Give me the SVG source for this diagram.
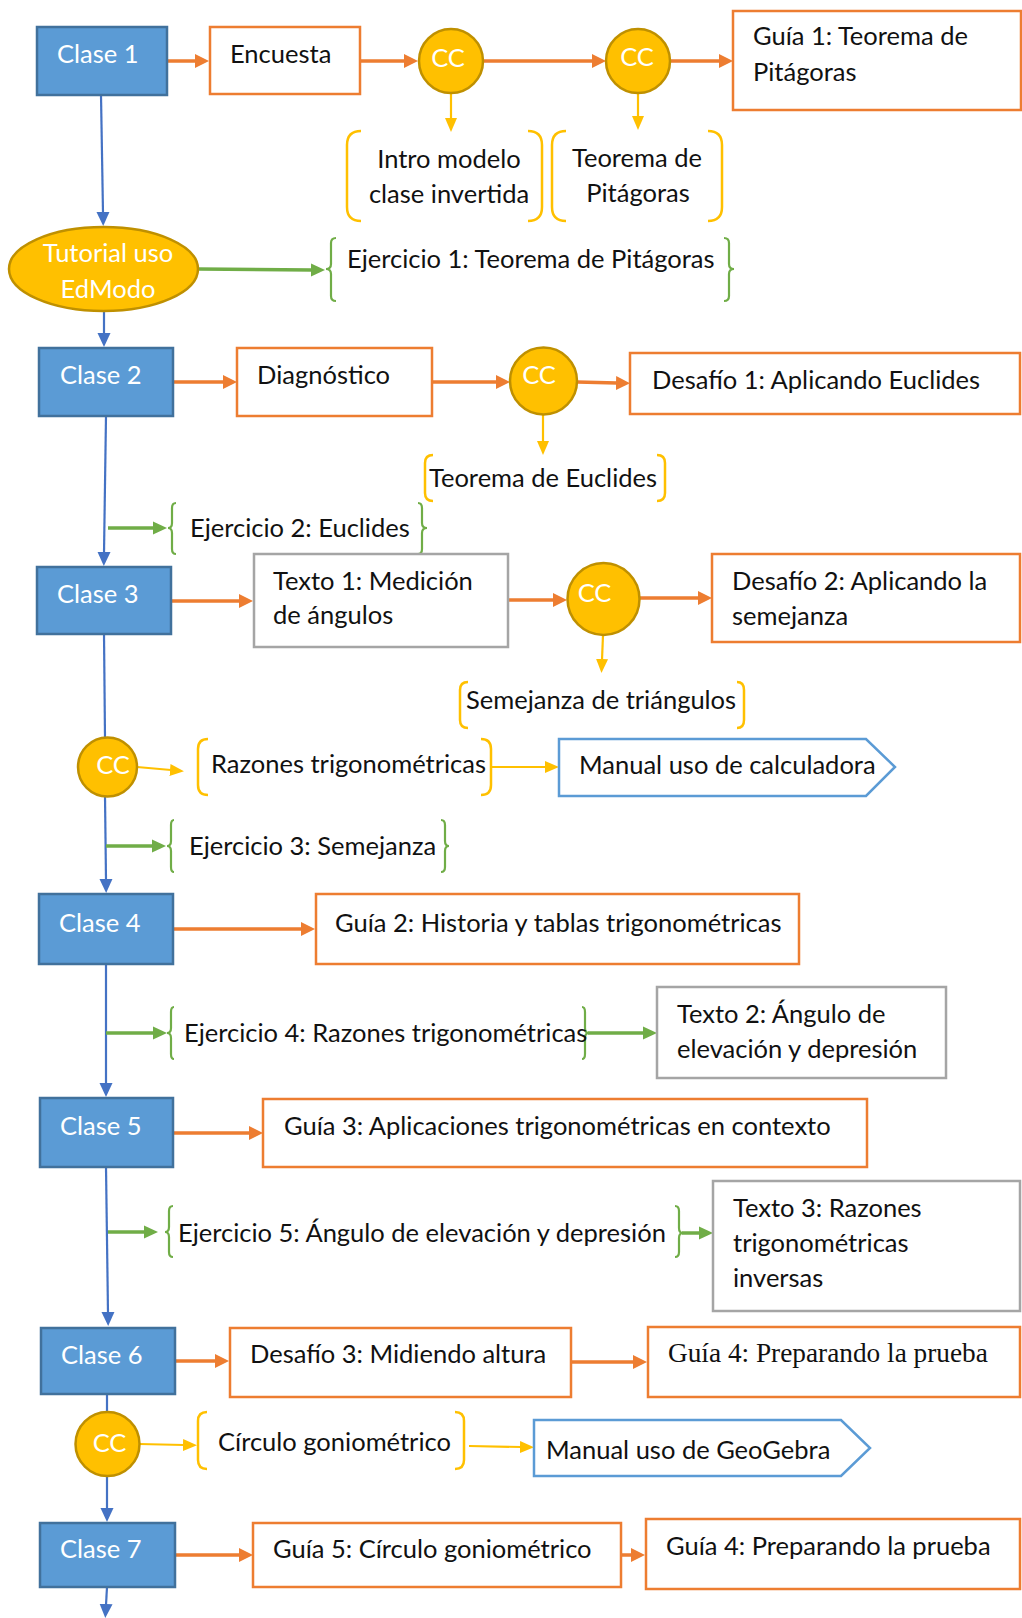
<svg xmlns="http://www.w3.org/2000/svg" width="1022" height="1618" viewBox="0 0 1022 1618">
<defs>
<style>
text { font-family: Lato, "Open Sans", sans-serif; font-size: 25.5px; fill: #111; }
.serif { font-family: "Liberation Serif", "Times New Roman", serif; font-size: 27.3px; }
.w { fill: #fff; }
.m { text-anchor: middle; }
.clase { fill: #5B9BD5; stroke: #41719C; stroke-width: 2.5; }
.obox { fill: #fff; stroke: #ED7D31; stroke-width: 2.5; }
.gbox { fill: #fff; stroke: #A5A5A5; stroke-width: 2.5; }
.cc { fill: #FFC000; stroke: #BF9000; stroke-width: 2.5; }
.man { fill: #fff; stroke: #5B9BD5; stroke-width: 2.5; }
.ca { fill: none; stroke: #ED7D31; stroke-width: 3.5; marker-end: url(#ao); }
.cb { fill: none; stroke: #4472C4; stroke-width: 2.2; }
.cba { fill: none; stroke: #4472C4; stroke-width: 2.2; marker-end: url(#ab); }
.cg { fill: none; stroke: #70AD47; stroke-width: 3.5; marker-end: url(#ag); }
.cy { fill: none; stroke: #FFC000; stroke-width: 2.2; marker-end: url(#ay); }
.brg { fill: none; stroke: #70AD47; stroke-width: 2.2; }
.bry { fill: none; stroke: #FFC000; stroke-width: 2.5; }
</style>
<marker id="ao" markerUnits="userSpaceOnUse" viewBox="0 0 14 14" markerWidth="14" markerHeight="14" refX="1" refY="7" orient="auto"><path d="M0,0 L14,7 L0,14 z" fill="#ED7D31"/></marker>
<marker id="ab" markerUnits="userSpaceOnUse" viewBox="0 0 14 14" markerWidth="14" markerHeight="14" refX="1" refY="7" orient="auto"><path d="M0,0.5 L14,7 L0,13.5 z" fill="#4472C4"/></marker>
<marker id="ag" markerUnits="userSpaceOnUse" viewBox="0 0 14 14" markerWidth="14" markerHeight="14" refX="1" refY="7" orient="auto"><path d="M0,0.5 L14,7 L0,13.5 z" fill="#70AD47"/></marker>
<marker id="ay" markerUnits="userSpaceOnUse" viewBox="0 0 14 14" markerWidth="14" markerHeight="14" refX="1" refY="7" orient="auto"><path d="M0,1 L14,7 L0,13 z" fill="#FFC000"/></marker>
</defs>
<rect width="1022" height="1618" fill="#fff"/>

<g id="connectors">
  <path class="ca" d="M167,61 H196"/>
  <path class="ca" d="M360,61 H405"/>
  <path class="ca" d="M483,61 H593"/>
  <path class="ca" d="M670,61 H720"/>
  <path class="ca" d="M173,382 H224"/>
  <path class="ca" d="M432,382 H497"/>
  <path class="ca" d="M577,382 L617,383"/>
  <path class="ca" d="M171,601 H240"/>
  <path class="ca" d="M508,600 H554"/>
  <path class="ca" d="M639,598 H699"/>
  <path class="ca" d="M173,929 H302"/>
  <path class="ca" d="M173,1133 H250"/>
  <path class="ca" d="M175,1361 H216"/>
  <path class="ca" d="M571,1362 H634"/>
  <path class="ca" d="M175,1555 H240"/>
  <path class="ca" d="M621,1555 H632"/>
  <path class="cy" d="M451,93 V119"/>
  <path class="cy" d="M638,93 V117"/>
  <path class="cy" d="M543,415 V442"/>
  <path class="cy" d="M603,635 L602,660"/>
  <path class="cy" d="M137,767 L171,770"/>
  <path class="cy" d="M491,767 H546"/>
  <path class="cy" d="M139,1444 L184,1445"/>
  <path class="cy" d="M469,1446 L521,1447"/>
  <path class="cba" d="M101,95 L103,213"/>
  <path class="cba" d="M104,311 V334"/>
  <path class="cba" d="M106,416 L104,553"/>
  <path class="cb" d="M104,634 L105,738"/>
  <path class="cba" d="M105,796 L106,880"/>
  <path class="cba" d="M106,964 V1084"/>
  <path class="cba" d="M106,1167 L108,1313"/>
  <path class="cb" d="M107,1394 V1412"/>
  <path class="cba" d="M107,1476 V1509"/>
  <path class="cba" d="M107,1587 L106,1605"/>
  <path class="cg" d="M198,269 L312,270"/>
  <path class="cg" d="M108,528 H154"/>
  <path class="cg" d="M106,846 H153"/>
  <path class="cg" d="M106,1033 H154"/>
  <path class="cg" d="M588,1033 H644"/>
  <path class="cg" d="M108,1232 H145"/>
  <path class="cg" d="M682,1233 H700"/>
</g>

<g id="clase1"><rect class="clase" x="37" y="27" width="130" height="68"/><text class="w" x="57" y="63">Clase 1</text></g>
<g id="encuesta"><rect class="obox" x="210" y="27" width="150" height="67"/><text x="230" y="63">Encuesta</text></g>
<g id="cc1"><circle class="cc" cx="451" cy="61" r="32"/><text class="w m" x="448" y="67">CC</text></g>
<g id="cc2"><circle class="cc" cx="638" cy="61" r="32"/><text class="w m" x="637" y="66">CC</text></g>
<g id="guia1"><rect class="obox" x="733" y="11" width="288" height="99"/><text x="753" y="45">Guía 1: Teorema de</text><text x="753" y="81">Pitágoras</text></g>
<g id="intro"><path class="bry" d="M361,131 Q347,131 347,145 V207 Q347,221 361,221"/><path class="bry" d="M528,131 Q542,131 542,145 V207 Q542,221 528,221"/><text class="m" x="449" y="168">Intro modelo</text><text class="m" x="449" y="203">clase invertida</text></g>
<g id="teorema-pitagoras"><path class="bry" d="M566,131 Q552,131 552,145 V207 Q552,221 566,221"/><path class="bry" d="M708,131 Q722,131 722,145 V207 Q722,221 708,221"/><text class="m" x="637" y="167">Teorema de</text><text class="m" x="638" y="202">Pitágoras</text></g>
<g id="tutorial"><ellipse class="cc" cx="103.5" cy="269" rx="94.5" ry="42"/><text class="w m" x="108" y="262">Tutorial uso</text><text class="w m" x="108" y="298">EdModo</text></g>
<g id="ejercicio1"><path class="brg" d="M336,238 Q331,238 331,243 V264 Q331,269 326,269 Q331,269 331,274 V296 Q331,301 336,301"/><path class="brg" d="M724,238 Q729,238 729,243 V264 Q729,269 734,269 Q729,269 729,274 V296 Q729,301 724,301"/><text x="347" y="268">Ejercicio 1: Teorema de Pitágoras</text></g>

<g id="clase2"><rect class="clase" x="39" y="348" width="134" height="68"/><text class="w" x="60" y="384">Clase 2</text></g>
<g id="diagnostico"><rect class="obox" x="237" y="348" width="195" height="68"/><text x="257" y="384">Diagnóstico</text></g>
<g id="cc3"><circle class="cc" cx="543.5" cy="381" r="33.5"/><text class="w m" x="539" y="384">CC</text></g>
<g id="desafio1"><rect class="obox" x="630" y="353" width="390" height="61"/><text x="652" y="389">Desafío 1: Aplicando Euclides</text></g>
<g id="teorema-euclides"><path class="bry" d="M433,455 Q425,455 425,463 V493 Q425,501 433,501"/><path class="bry" d="M657,455 Q665,455 665,463 V493 Q665,501 657,501"/><text x="429" y="487">Teorema de Euclides</text></g>
<g id="ejercicio2"><path class="brg" d="M176,503 Q172,503 172,508 V523 Q172,528 168,528 Q172,528 172,533 V549 Q172,554 176,554"/><path class="brg" d="M418,503 Q422,503 422,508 V523 Q422,528 427,528 Q422,528 422,533 V549 Q422,554 418,554"/><text x="190" y="537">Ejercicio 2: Euclides</text></g>

<g id="clase3"><rect class="clase" x="37" y="567" width="134" height="67"/><text class="w" x="57" y="603">Clase 3</text></g>
<g id="texto1"><rect class="gbox" x="254" y="554" width="254" height="93"/><text x="273" y="590">Texto 1: Medición</text><text x="273" y="624">de ángulos</text></g>
<g id="cc4"><circle class="cc" cx="603.5" cy="599" r="36"/><text class="w m" x="594.5" y="602">CC</text></g>
<g id="desafio2"><rect class="obox" x="712" y="554" width="308" height="88"/><text x="732" y="590">Desafío 2: Aplicando la</text><text x="732" y="625">semejanza</text></g>
<g id="semejanza"><path class="bry" d="M468,682 Q460,682 460,690 V720 Q460,728 468,728"/><path class="bry" d="M737,682 Q744,682 744,690 V720 Q744,728 737,728"/><text x="466" y="709">Semejanza de triángulos</text></g>

<g id="cc5"><circle class="cc" cx="107.5" cy="767" r="29.5"/><text class="w m" x="113" y="774">CC</text></g>
<g id="razones"><path class="bry" d="M208,739 Q198,739 198,749 V785 Q198,795 208,795"/><path class="bry" d="M481,739 Q491,739 491,749 V785 Q491,795 481,795"/><text x="211" y="773">Razones trigonométricas</text></g>
<g id="manual-calculadora"><path class="man" d="M559,739 H866 L895,767 L866,796 H559 Z"/><text x="579" y="774">Manual uso de calculadora</text></g>
<g id="ejercicio3"><path class="brg" d="M174,820 Q171,820 171,825 V841 Q171,846 167,846 Q171,846 171,851 V867 Q171,872 174,872"/><path class="brg" d="M441,820 Q445,820 445,825 V841 Q445,846 449,846 Q445,846 445,851 V867 Q445,872 441,872"/><text x="189" y="855">Ejercicio 3: Semejanza</text></g>

<g id="clase4"><rect class="clase" x="39" y="894" width="134" height="70"/><text class="w" x="59" y="932">Clase 4</text></g>
<g id="guia2"><rect class="obox" x="316" y="894" width="483" height="70"/><text x="335" y="932">Guía 2: Historia y tablas trigonométricas</text></g>
<g id="ejercicio4"><path class="brg" d="M174,1007 Q171,1007 171,1012 V1028 Q171,1033 167,1033 Q171,1033 171,1038 V1054 Q171,1059 174,1059"/><path class="brg" d="M582,1007 Q585,1007 585,1012 V1028 Q585,1033 589,1033 Q585,1033 585,1038 V1054 Q585,1059 582,1059"/><text x="184" y="1042">Ejercicio 4: Razones trigonométricas</text></g>
<g id="texto2"><rect class="gbox" x="657" y="987" width="289" height="91"/><text x="677" y="1023">Texto 2: Ángulo de</text><text x="677" y="1058">elevación y depresión</text></g>

<g id="clase5"><rect class="clase" x="40" y="1098" width="133" height="69"/><text class="w" x="60" y="1135">Clase 5</text></g>
<g id="guia3"><rect class="obox" x="263" y="1099" width="604" height="68"/><text x="284" y="1135">Guía 3: Aplicaciones trigonométricas en contexto</text></g>
<g id="ejercicio5"><path class="brg" d="M173,1206 Q169,1206 169,1211 V1227 Q169,1232 165,1232 Q169,1232 169,1237 V1252 Q169,1257 173,1257"/><path class="brg" d="M675,1206 Q679,1206 679,1211 V1228 Q679,1233 683,1233 Q679,1233 679,1238 V1252 Q679,1257 675,1257"/><text x="178" y="1242">Ejercicio 5: Ángulo de elevación y depresión</text></g>
<g id="texto3"><rect class="gbox" x="713" y="1181" width="307" height="130"/><text x="733" y="1217">Texto 3: Razones</text><text x="733" y="1252">trigonométricas</text><text x="733" y="1287">inversas</text></g>

<g id="clase6"><rect class="clase" x="41" y="1328" width="134" height="66"/><text class="w" x="61" y="1364">Clase 6</text></g>
<g id="desafio3"><rect class="obox" x="230" y="1328" width="341" height="69"/><text x="250" y="1363">Desafío 3: Midiendo altura</text></g>
<g id="guia4a"><rect class="obox" x="648" y="1327" width="372" height="70"/><text class="serif" x="668" y="1362">Guía 4: Preparando la prueba</text></g>
<g id="cc6"><circle class="cc" cx="107.5" cy="1444" r="32"/><text class="w m" x="109.5" y="1452">CC</text></g>
<g id="circulo"><path class="bry" d="M207,1412 Q198,1412 198,1421 V1460 Q198,1469 207,1469"/><path class="bry" d="M455,1412 Q464,1412 464,1421 V1460 Q464,1469 455,1469"/><text x="218" y="1451">Círculo goniométrico</text></g>
<g id="manual-geogebra"><path class="man" d="M534,1420 H841 L870,1448 L841,1476 H534 Z"/><text x="546" y="1459">Manual uso de GeoGebra</text></g>

<g id="clase7"><rect class="clase" x="40" y="1523" width="135" height="64"/><text class="w" x="60" y="1558">Clase 7</text></g>
<g id="guia5"><rect class="obox" x="253" y="1523" width="368" height="64"/><text x="273" y="1558">Guía 5: Círculo goniométrico</text></g>
<g id="guia4b"><rect class="obox" x="646" y="1519" width="374" height="70"/><text x="666" y="1555">Guía 4: Preparando la prueba</text></g>
</svg>
